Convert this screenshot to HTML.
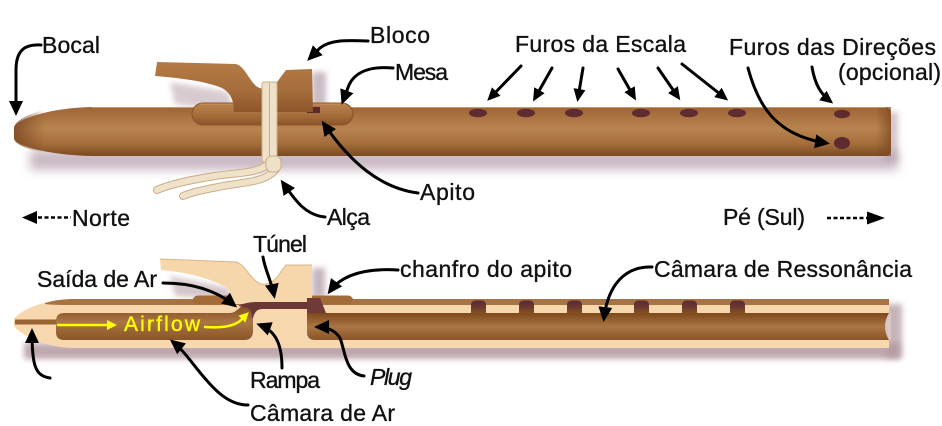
<!DOCTYPE html>
<html><head><meta charset="utf-8"><style>
html,body{margin:0;padding:0;background:#fff;}
svg{display:block;}
text{font-family:"Liberation Sans",sans-serif;font-size:23px;fill:#111;stroke:#111;stroke-width:0.35px;}
</style></head><body>
<svg width="942" height="426" viewBox="0 0 942 426" xmlns="http://www.w3.org/2000/svg">
<defs>
<linearGradient id="gTop" x1="0" y1="0" x2="0" y2="1">
<stop offset="0" stop-color="#9c6537"/><stop offset="0.12" stop-color="#a56d3c"/><stop offset="0.45" stop-color="#b9844f"/><stop offset="0.75" stop-color="#a46d3b"/><stop offset="1" stop-color="#7b4a21"/>
</linearGradient>
<linearGradient id="gTip" x1="0" y1="0" x2="1" y2="0">
<stop offset="0" stop-color="#7a4520" stop-opacity="0.8"/><stop offset="1" stop-color="#7a4520" stop-opacity="0"/>
</linearGradient>
<linearGradient id="gEnd" x1="0" y1="0" x2="1" y2="0">
<stop offset="0" stop-color="#7a4520" stop-opacity="0"/><stop offset="1" stop-color="#7a4520" stop-opacity="0.7"/>
</linearGradient>
<linearGradient id="gBlock" x1="0" y1="0" x2="0" y2="1">
<stop offset="0" stop-color="#b47b45"/><stop offset="0.6" stop-color="#a46c3a"/><stop offset="1" stop-color="#8d5529"/>
</linearGradient>
<linearGradient id="gMesa" x1="0" y1="0" x2="0" y2="1">
<stop offset="0" stop-color="#b9834e"/><stop offset="0.6" stop-color="#a36b39"/><stop offset="1" stop-color="#8a5428"/>
</linearGradient>
<linearGradient id="gBore" x1="0" y1="0" x2="0" y2="1">
<stop offset="0" stop-color="#7e481c"/><stop offset="0.5" stop-color="#a97644"/><stop offset="1" stop-color="#8a5427"/>
</linearGradient>
<linearGradient id="gHole" x1="0" y1="0" x2="0" y2="1">
<stop offset="0" stop-color="#5a2a2e"/><stop offset="0.5" stop-color="#6a3631"/><stop offset="1" stop-color="#85501f"/>
</linearGradient>
<filter id="blur5" x="-10%" y="-100%" width="120%" height="300%"><feGaussianBlur stdDeviation="5"/></filter>
<filter id="blur3" x="-50%" y="-50%" width="200%" height="200%"><feGaussianBlur stdDeviation="3"/></filter>
<marker id="ah" markerUnits="userSpaceOnUse" markerWidth="16" markerHeight="16" refX="11" refY="7" orient="auto">
<path d="M0,0 L15,7 L0,14 Z" fill="#000"/>
</marker>
<marker id="ahs" markerUnits="userSpaceOnUse" markerWidth="14" markerHeight="14" refX="9" refY="6" orient="auto">
<path d="M0,0 L13,6 L0,12 Z" fill="#000"/>
</marker>
<marker id="ay" markerUnits="userSpaceOnUse" markerWidth="12" markerHeight="12" refX="6" refY="5" orient="auto">
<path d="M0,0 L10,5 L0,10 Z" fill="#ffff00"/>
</marker>
</defs>

<!-- ============ TOP FLUTE ============ -->
<rect x="30" y="150" width="868" height="20" fill="#b8a2b0" opacity="0.75" filter="url(#blur5)"/>
<rect x="884" y="112" width="14" height="50" fill="#b8a2b0" opacity="0.6" filter="url(#blur3)"/>
<path d="M14,128 C14,121 45,108 92,107 L886,107 Q891,108 891,115 L891,149 Q891,156 886,156 L92,156 C45,155 14,145 14,138 Z" fill="url(#gTop)"/>
<path d="M14,128 C14,121 30,113 45,110 L45,153 C30,150 14,145 14,138 Z" fill="url(#gTip)"/>
<rect x="876" y="107" width="15" height="49" fill="url(#gEnd)"/>
<line x1="92" y1="107.5" x2="886" y2="107.5" stroke="#c99a68" stroke-width="1"/>

<!-- holes -->
<g fill="#5e2b2e">
<ellipse cx="478" cy="113" rx="9" ry="4.3"/>
<ellipse cx="526" cy="113" rx="9" ry="4.3"/>
<ellipse cx="574" cy="113" rx="9" ry="4.3"/>
<ellipse cx="641" cy="113" rx="9" ry="4.3"/>
<ellipse cx="689" cy="113" rx="9" ry="4.3"/>
<ellipse cx="737" cy="113" rx="9" ry="4.3"/>
<ellipse cx="842" cy="114" rx="8" ry="4.3"/>
<ellipse cx="842" cy="143" rx="8" ry="6"/>
</g>

<!-- block shadows -->
<path d="M170,82 L228,92 L234,112 L175,104 Z" fill="#a78c98" opacity="0.45" filter="url(#blur3)"/>
<rect x="312" y="72" width="14" height="34" fill="#a88e9c" opacity="0.6" filter="url(#blur3)"/>

<!-- mesa -->
<rect x="192" y="103" width="161" height="22" rx="11" fill="url(#gMesa)" stroke="#8a5428" stroke-width="1"/>
<line x1="200" y1="104" x2="345" y2="104" stroke="#c6935f" stroke-width="1"/>
<!-- apito -->
<rect x="307" y="107" width="13" height="6" fill="#5a2a2c"/>

<!-- block -->
<path d="M157,62 L236,64 C244,66 248,78 256,86 C264,92 274,88 280,78 L286,70 L312,69 L313,112 L234,112 C234,101 231,93 222,88 C205,81 180,78 155,76 Z" fill="url(#gBlock)"/>

<!-- cord -->
<path d="M272,160 C262,174 240,172 215,176 C190,180 170,184 157,190" fill="none" stroke="#c8ad87" stroke-width="8" stroke-linecap="round"/>
<path d="M272,160 C262,174 240,172 215,176 C190,180 170,184 157,190" fill="none" stroke="#f0e2c9" stroke-width="6" stroke-linecap="round"/>
<path d="M276,169 C266,182 246,182 223,186 C203,190 192,192 183,196" fill="none" stroke="#c8ad87" stroke-width="8" stroke-linecap="round"/>
<path d="M276,169 C266,182 246,182 223,186 C203,190 192,192 183,196" fill="none" stroke="#f0e2c9" stroke-width="6" stroke-linecap="round"/>
<rect x="262" y="82" width="15" height="80" rx="2" fill="#efe1c8" stroke="#c9ae88" stroke-width="1"/>
<line x1="269.5" y1="83" x2="269.5" y2="160" stroke="#c9ae88" stroke-width="1"/>
<rect x="266" y="156" width="15" height="16" rx="6" fill="#efe1c8" stroke="#c9ae88" stroke-width="1"/>

<!-- ============ BOTTOM FLUTE (cross-section) ============ -->
<rect x="24" y="343" width="876" height="16" fill="#b39aa0" opacity="0.85" filter="url(#blur3)"/>
<rect x="886" y="304" width="16" height="54" fill="#b39aa0" opacity="0.75" filter="url(#blur3)"/>
<path d="M170,276 L228,288 L234,300 L175,296 Z" fill="#a78c98" opacity="0.5" filter="url(#blur3)"/>
<rect x="312" y="268" width="13" height="30" fill="#a88e9c" opacity="0.65" filter="url(#blur3)"/>

<!-- cream body -->
<path d="M14,319 C18,312 40,300 72,299 L889,299 L889,348 L72,348 C40,347 18,332 14,326 Z" fill="#f7d8ae"/>
<!-- top brown strip -->
<path d="M45,303 C55,300 65,299 75,299 L889,299 L889,305 L75,305 C62,305 52,305 45,304 Z" fill="#a87342"/>
<!-- mesa bumps -->
<rect x="193" y="295.5" width="160" height="9" rx="5" fill="#a36b38"/>
<!-- tip channel -->
<path d="M15,319.5 L60,319.5 L60,324.5 L15,324.5 Z" fill="#9a6333"/>

<!-- air chamber -->
<path d="M56,321 Q56,313 64,313 L230,313 C237,313 240,305 247,304 L252,304 C254,308 253,312 253,318 L253,331 Q253,340 244,340 L64,340 Q56,340 56,332 Z" fill="url(#gBore)"/>

<!-- bore -->
<path d="M307,313 L889,313 L889,340 L315,340 Q307,340 307,332 Z" fill="url(#gBore)"/>
<path d="M889,313 Q881,326.5 889,340 L891,340 L891,313 Z" fill="#d9c6c6"/>

<!-- holes in cross section -->
<g fill="url(#gHole)">
<path d="M471,313 L471,305 Q471,300.5 476,300.5 L481,300.5 Q486,300.5 486,305 L486,313 Z"/>
<path d="M519,313 L519,305 Q519,300.5 524,300.5 L529,300.5 Q534,300.5 534,305 L534,313 Z"/>
<path d="M567,313 L567,305 Q567,300.5 572,300.5 L577,300.5 Q582,300.5 582,305 L582,313 Z"/>
<path d="M634,313 L634,305 Q634,300.5 639,300.5 L644,300.5 Q649,300.5 649,305 L649,313 Z"/>
<path d="M682,313 L682,305 Q682,300.5 687,300.5 L692,300.5 Q697,300.5 697,305 L697,313 Z"/>
<path d="M730,313 L730,305 Q730,300.5 735,300.5 L740,300.5 Q745,300.5 745,305 L745,313 Z"/>
</g>

<!-- block (cream) -->
<path d="M160,259 L236,262 C244,264 248,275 257,282 C265,287 274,283 280,273 L286,265 L312,265 L312,304 L233,304 C233,296 230,289 222,285 C205,277 185,272 161,270 Z" fill="#f6d7ac"/>
<path d="M160,259 L236,262 C244,264 248,275 257,282 C265,287 274,283 280,273 L286,265 L312,265" fill="none" stroke="#d9b488" stroke-width="1"/>

<!-- tunnel -->
<path d="M238,306 Q246,302 256,302 L310,302 L310,309 L262,309 Q255,309 253,318 L252,318 Q252,308 244,307 Z" fill="#6b3636"/>
<!-- chamfer -->
<path d="M307,298 L320,298 L326,313 L307,313 Z" fill="#703a38"/>

<!-- ============ ARROWS ============ -->
<g fill="none" stroke="#000" stroke-width="3" stroke-linecap="round">
<path d="M41,45 C25,44 16,50 16,70 L16,112" marker-end="url(#ah)"/>
<path d="M368,41 C345,40 330,40 320,48 L310,58" marker-end="url(#ah)"/>
<path d="M393,68 C370,66 355,72 349,85 L343,101" marker-end="url(#ah)"/>
<path d="M418,193 C380,188 350,162 324,124" marker-end="url(#ah)"/>
<path d="M325,217 C305,215 295,200 283,183" marker-end="url(#ah)"/>
<path d="M521,66 L490,98" marker-end="url(#ahs)"/>
<path d="M552,68 L535,98" marker-end="url(#ahs)"/>
<path d="M583,68 L578,98" marker-end="url(#ahs)"/>
<path d="M618,69 L634,97" marker-end="url(#ahs)"/>
<path d="M658,68 L678,97" marker-end="url(#ahs)"/>
<path d="M682,64 L725,98" marker-end="url(#ahs)"/>
<path d="M748,68 C758,105 775,135 826,143" marker-end="url(#ah)"/>
<path d="M812,67 C815,85 821,94 830,101" marker-end="url(#ahs)"/>
<path d="M263,257 C265,270 271,280 274,295" marker-end="url(#ah)"/>
<path d="M163,283 C195,283 218,292 234,305" marker-end="url(#ah)"/>
<path d="M398,270 C365,268 342,275 330,291" marker-end="url(#ah)"/>
<path d="M652,267 C625,266 608,285 604,318" marker-end="url(#ah)"/>
<path d="M50,378 C35,376 32,365 32,332" marker-end="url(#ah)"/>
<path d="M282,368 C282,345 276,331 260,325" marker-end="url(#ah)"/>
<path d="M364,376 C345,374 345,350 340,338 C335,330 326,327 318,327" marker-end="url(#ah)"/>
<path d="M248,405 C225,405 210,385 190,360 C183,351 178,346 173,342" marker-end="url(#ah)"/>
</g>

<!-- direction arrows -->
<path d="M22,217.5 L37,211 L37,224 Z" fill="#000"/>
<line x1="38" y1="217.5" x2="71" y2="217.5" stroke="#000" stroke-width="2.5" stroke-dasharray="4,2.5"/>
<line x1="827" y1="218" x2="868" y2="218" stroke="#000" stroke-width="2.5" stroke-dasharray="4,2.5"/>
<path d="M867,211.5 L885,218 L867,224.5 Z" fill="#000"/>

<!-- airflow arrows -->
<g fill="none" stroke="#ffff00" stroke-width="2.5" stroke-linecap="round">
<path d="M58,325 L113,325" marker-end="url(#ay)"/>
<path d="M205,327 C220,328 232,327 240,321 L246,315" marker-end="url(#ay)"/>
</g>

<!-- ============ LABELS ============ -->
<text x="42" y="53" textLength="58" lengthAdjust="spacing">Bocal</text>
<text x="370" y="43" textLength="60" lengthAdjust="spacing">Bloco</text>
<text x="395" y="80" textLength="53" lengthAdjust="spacing">Mesa</text>
<text x="420" y="200" textLength="55" lengthAdjust="spacing">Apito</text>
<text x="327" y="225" textLength="43" lengthAdjust="spacing">Alça</text>
<text x="72" y="226" textLength="58" lengthAdjust="spacing">Norte</text>
<text x="515" y="52" textLength="171" lengthAdjust="spacing">Furos da Escala</text>
<text x="729" y="55" textLength="207" lengthAdjust="spacing">Furos das Direções</text>
<text x="838" y="80" textLength="103" lengthAdjust="spacing">(opcional)</text>
<text x="723" y="225" textLength="82" lengthAdjust="spacing">Pé (Sul)</text>
<text x="253" y="252" textLength="54" lengthAdjust="spacing">Túnel</text>
<text x="37" y="287" textLength="120" lengthAdjust="spacing">Saída de Ar</text>
<text x="400" y="277" textLength="172" lengthAdjust="spacing">chanfro do apito</text>
<text x="654" y="277" textLength="258" lengthAdjust="spacing">Câmara de Ressonância</text>
<text x="124" y="331" textLength="76" lengthAdjust="spacing" style="fill:#ffff00;stroke:#ffff00;font-size:21px;">Airflow</text>
<text x="250" y="388" textLength="70" lengthAdjust="spacing">Rampa</text>
<text x="370" y="385" textLength="42" lengthAdjust="spacing" style="font-style:italic;">Plug</text>
<text x="250" y="421" textLength="145" lengthAdjust="spacing">Câmara de Ar</text>
</svg>
</body></html>
